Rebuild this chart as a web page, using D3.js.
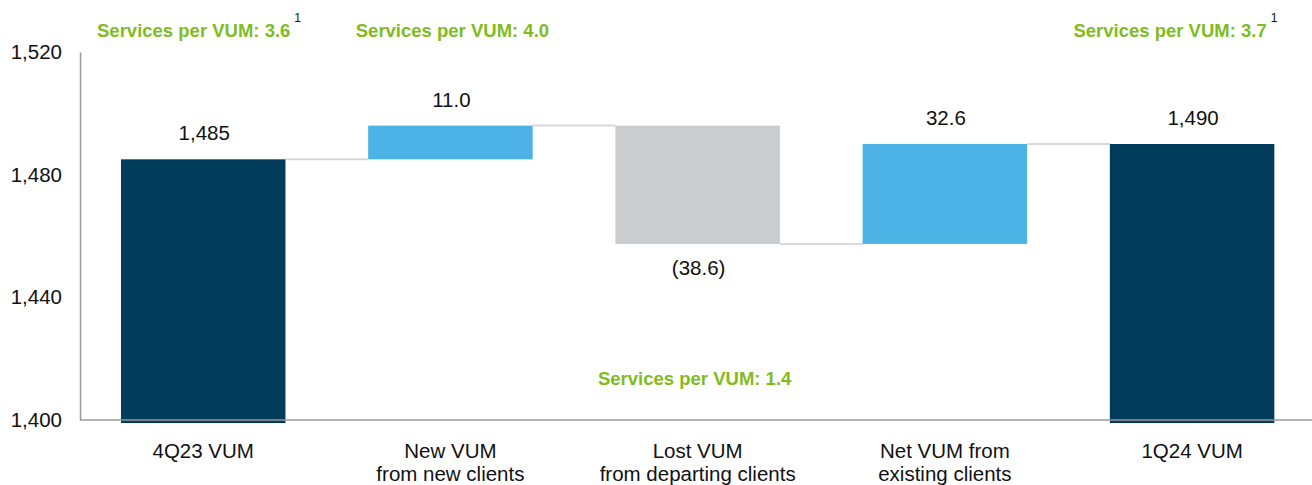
<!DOCTYPE html>
<html><head><meta charset="utf-8">
<script src="https://cdn.jsdelivr.net/npm/d3@7"></script>
<style>
html,body{margin:0;padding:0;background:#fff;}
svg{display:block;font-family:"Liberation Sans",Arial,sans-serif;}
</style></head>
<body>
<svg id="chart" width="1312" height="485"></svg>
<script>
// ---- data ----
const categories = ["4Q23 VUM", "New VUM|from new clients", "Lost VUM|from departing clients", "Net VUM from|existing clients", "1Q24 VUM"];
const values = [1485, 11.0, -38.6, 32.6, 1490];
const kinds = ["total", "delta", "delta", "delta", "total"];
const valueLabels = ["1,485", "11.0", "(38.6)", "32.6", "1,490"];
const yTicks = [1400, 1440, 1480, 1520];
const servicesCats = [0, 1, 2, 4];
const servicesTexts = ["Services per VUM: 3.6", "Services per VUM: 4.0", "Services per VUM: 1.4", "Services per VUM: 3.7"];
const servicesSups = ["1", "", "", "1"];

// ---- layout (not data) ----
const servicesLayout = [
  {dx: -9.5, row: "top"},
  {dx: 2, row: "top"},
  {dx: -3, row: "bottom"},
  {dx: -22, row: "top"}
];

// ---- compute waterfall ----
let run = 0;
const bars = categories.map((c, i) => {
  let start, end;
  if (kinds[i] === "total") { start = 1400; end = values[i]; run = values[i]; }
  else { start = run; end = run + values[i]; run = end; }
  return {cat: c, i, start, end, kind: kinds[i], value: values[i], label: valueLabels[i]};
});

const svg = d3.select("#chart");
const x = d3.scaleBand().domain(categories).range([81.4, 1313.9]).paddingInner(0.3346).paddingOuter(0.16);
const y = d3.scaleLinear().domain([1400, 1520]).range([420, 52]);

const colors = {total: "#013c5b", up: "#4db3e6", down: "#c9cdd0"};

// connectors
for (let i = 0; i < bars.length - 1; i++) {
  const b = bars[i];
  svg.append("line")
    .attr("x1", x(b.cat) + x.bandwidth()).attr("x2", x(bars[i+1].cat))
    .attr("y1", y(b.end)).attr("y2", y(b.end))
    .attr("stroke", "#d9d9d9").attr("stroke-width", 2);
}

// bars
svg.selectAll("rect.bar").data(bars).enter().append("rect")
  .attr("class", "bar")
  .attr("x", d => x(d.cat))
  .attr("width", x.bandwidth())
  .attr("y", d => y(Math.max(d.start, d.end)))
  .attr("height", d => Math.abs(y(d.start) - y(d.end)) + (d.kind === "total" ? 3 : 0))
  .attr("fill", d => d.kind === "total" ? colors.total : (d.value >= 0 ? colors.up : colors.down));

// axes
const yAxis = d3.axisLeft(y).tickValues(yTicks).tickSize(0).tickPadding(18).tickFormat(d3.format(","));
const gy = svg.append("g").attr("transform", "translate(80,0)").call(yAxis);
gy.select(".domain").attr("stroke", "#999").attr("stroke-width", 1.5);
gy.selectAll("text").attr("font-size", "20.5px").attr("fill", "#111").attr("font-family", "Liberation Sans, Arial, sans-serif");

svg.append("line").attr("x1", 80).attr("x2", 1312).attr("y1", y(1400)).attr("y2", y(1400))
  .attr("stroke", "#999").attr("stroke-width", 1.5);

// value labels
svg.selectAll("text.val").data(bars).enter().append("text")
  .attr("class", "val")
  .attr("x", d => x(d.cat) + x.bandwidth() / 2 + 1)
  .attr("y", d => d.value >= 0 || d.kind === "total" ? y(Math.max(d.start, d.end)) - 19 : y(Math.min(d.start, d.end)) + 31)
  .attr("text-anchor", "middle")
  .attr("font-size", "20.5px").attr("fill", "#111")
  .text(d => d.label);

// category labels
const cl = svg.selectAll("text.cat").data(categories).enter().append("text")
  .attr("class", "cat")
  .attr("x", d => x(d) + x.bandwidth() / 2)
  .attr("y", 458)
  .attr("text-anchor", "middle")
  .attr("font-size", "20.5px").attr("fill", "#111");
cl.each(function(d) {
  const parts = d.split("|");
  const t = d3.select(this);
  parts.forEach((p, k) => t.append("tspan").attr("x", x(d) + x.bandwidth() / 2).attr("dy", k === 0 ? 0 : 22.5).text(p));
});

// services labels
servicesTexts.forEach((txt, k) => {
  const lay = servicesLayout[k];
  const cx = x(categories[servicesCats[k]]) + x.bandwidth() / 2 + lay.dx;
  const ty = lay.row === "top" ? 36.5 : 385;
  const t = svg.append("text")
    .attr("x", cx).attr("y", ty)
    .attr("text-anchor", "middle")
    .attr("font-size", "18.5px").attr("font-weight", "bold").attr("fill", "#80bc1e")
    .text(txt);
  if (servicesSups[k]) {
    const w = t.node().getComputedTextLength();
    svg.append("text").attr("x", cx + w / 2 + 4).attr("y", ty - 15)
      .attr("font-size", "12px").attr("fill", "#111").text(servicesSups[k]);
  }
});
</script>
</body></html>
